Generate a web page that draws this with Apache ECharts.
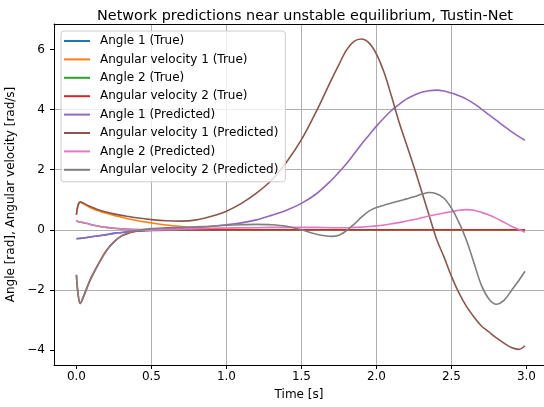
<!DOCTYPE html>
<html>
<head>
<meta charset="utf-8">
<script src="https://cdn.jsdelivr.net/npm/echarts@6/dist/echarts.min.js"></script>
<style>
html,body{margin:0;padding:0;background:#fff;overflow:hidden;}
#chart{width:544px;height:407px;}
</style>
</head>
<body>
<div id="chart"></div>
<script>
// ---- data ----
const time = [0, 0.01, 0.025, 0.05, 0.08, 0.1, 0.15, 0.2, 0.25, 0.3, 0.35, 0.4, 0.5, 0.6, 0.7, 0.8, 0.9, 1.0, 1.1, 1.2, 1.3, 1.4, 1.5, 1.6, 1.7, 1.75, 1.8, 1.85, 1.9, 1.95, 2.0, 2.05, 2.1, 2.15, 2.2, 2.25, 2.3, 2.35, 2.4, 2.45, 2.5, 2.55, 2.6, 2.65, 2.7, 2.75, 2.8, 2.85, 2.9, 2.95, 2.99];

const angle1True = [-0.3, -0.29, -0.285, -0.27, -0.25, -0.23, -0.2, -0.16, -0.12, -0.09, -0.06, -0.04, -0.02, -0.01, -0.005, 0, 0, 0, 0, 0, 0, 0, 0, 0, 0, 0, 0, 0, 0, 0, 0, 0, 0, 0, 0, 0, 0, 0, 0, 0, 0, 0, 0, 0, 0, 0, 0, 0, 0, 0, 0];
const angVel1True = [0.5, 0.8, 0.92, 0.86, 0.77, 0.72, 0.63, 0.55, 0.48, 0.42, 0.36, 0.31, 0.23, 0.16, 0.11, 0.07, 0.04, 0.02, 0.01, 0, 0, 0, 0, 0, 0, 0, 0, 0, 0, 0, 0, 0, 0, 0, 0, 0, 0, 0, 0, 0, 0, 0, 0, 0, 0, 0, 0, 0, 0, 0, 0];
const angle2True = [0.3, 0.28, 0.26, 0.23, 0.2, 0.17, 0.12, 0.08, 0.05, 0.03, 0.015, 0.005, 0, 0, 0, 0, 0, 0, 0, 0, 0, 0, 0, 0, 0, 0, 0, 0, 0, 0, 0, 0, 0, 0, 0, 0, 0, 0, 0, 0, 0, 0, 0, 0, 0, 0, 0, 0, 0, 0, 0];
const angVel2True = [-1.5, -2.1, -2.45, -2.18, -1.8, -1.57, -1.1, -0.69, -0.4, -0.21, -0.11, -0.05, -0.01, 0, 0, 0, 0, 0, 0, 0, 0, 0, 0, 0, 0, 0, 0, 0, 0, 0, 0, 0, 0, 0, 0, 0, 0, 0, 0, 0, 0, 0, 0, 0, 0, 0, 0, 0, 0, 0, 0];

const angle1Pred = [-0.3, -0.29, -0.285, -0.27, -0.25, -0.23, -0.2, -0.16, -0.12, -0.09, -0.06, -0.04, 0.0, 0.03, 0.05, 0.08, 0.12, 0.17, 0.23, 0.33, 0.48, 0.65, 0.88, 1.2, 1.65, 1.92, 2.2, 2.52, 2.85, 3.15, 3.45, 3.72, 3.97, 4.17, 4.35, 4.48, 4.58, 4.63, 4.65, 4.62, 4.55, 4.46, 4.35, 4.2, 4.02, 3.83, 3.64, 3.45, 3.27, 3.1, 2.98];
const angVel1Pred = [0.5, 0.8, 0.92, 0.88, 0.8, 0.76, 0.66, 0.59, 0.53, 0.48, 0.44, 0.4, 0.34, 0.3, 0.29, 0.33, 0.45, 0.62, 0.88, 1.22, 1.65, 2.25, 3.0, 3.95, 5.0, 5.5, 5.98, 6.27, 6.35, 6.22, 5.85, 5.25, 4.45, 3.6, 2.85, 2.1, 1.3, 0.5, -0.3, -0.9, -1.55, -2.1, -2.55, -2.9, -3.2, -3.4, -3.6, -3.77, -3.92, -3.98, -3.86];
const angle2Pred = [0.3, 0.28, 0.26, 0.23, 0.2, 0.17, 0.12, 0.08, 0.05, 0.03, 0.015, 0.005, -0.01, 0.0, 0.02, 0.04, 0.05, 0.06, 0.07, 0.07, 0.08, 0.08, 0.08, 0.08, 0.07, 0.07, 0.07, 0.08, 0.09, 0.11, 0.13, 0.16, 0.2, 0.24, 0.29, 0.34, 0.4, 0.46, 0.51, 0.56, 0.6, 0.65, 0.67, 0.65, 0.58, 0.49, 0.38, 0.25, 0.12, 0.01, -0.08];
const angVel2Pred = [-1.5, -2.1, -2.45, -2.2, -1.82, -1.6, -1.12, -0.7, -0.4, -0.2, -0.09, -0.03, 0.04, 0.07, 0.08, 0.1, 0.12, 0.15, 0.17, 0.18, 0.17, 0.12, 0.0, -0.15, -0.22, -0.18, -0.03, 0.18, 0.42, 0.62, 0.74, 0.82, 0.89, 0.96, 1.03, 1.1, 1.18, 1.24, 1.2, 1.05, 0.72, 0.25, -0.35, -1.1, -1.85, -2.3, -2.48, -2.35, -2.02, -1.68, -1.38];

const seriesNames = ['Angle 1 (True)', 'Angular velocity 1 (True)', 'Angle 2 (True)', 'Angular velocity 2 (True)',
  'Angle 1 (Predicted)', 'Angular velocity 1 (Predicted)', 'Angle 2 (Predicted)', 'Angular velocity 2 (Predicted)'];
const seriesValues = [angle1True, angVel1True, angle2True, angVel2True, angle1Pred, angVel1Pred, angle2Pred, angVel2Pred];

const xTicks = [0, 0.5, 1, 1.5, 2, 2.5, 3];
const yTicks = [-4, -2, 0, 2, 4, 6];

// ---- styles ----
const colors = ['#1f77b4', '#ff7f0e', '#2ca02c', '#d62728', '#9467bd', '#8c564b', '#e377c2', '#7f7f7f'];
const FONT = 'DejaVu Sans';
const X_MIN = -0.1495, X_MAX = 3.117;

const chart = echarts.init(document.getElementById('chart'), null, {renderer: 'canvas'});

const series = seriesNames.map((name, i) => ({
  name: name,
  type: 'line',
  xAxisIndex: 0,
  data: time.map((t, k) => [t, seriesValues[i][k]]),
  showSymbol: false,
  symbol: 'none',
  smooth: 0.35,
  lineStyle: {color: colors[i], width: 1.6},
  itemStyle: {color: colors[i]},
  emphasis: {disabled: true},
  animation: false
}));

const option = {
  animation: false,
  title: {
    text: 'Network predictions near unstable equilibrium, Tustin-Net',
    left: 300, top: 4, textAlign: 'center',
    textStyle: {fontFamily: FONT, fontSize: 14.4, fontWeight: 'normal', color: '#000'}
  },
  grid: {left: 54, top: 24, right: 0, height: 341, outerBoundsMode: 'none', containLabel: false, show: false},
  legend: {
    orient: 'vertical', left: 61, top: 31,
    data: seriesNames,
    icon: 'rect',
    itemWidth: 26, itemHeight: 2, itemGap: 4.4,
    padding: [3, 7, 5, 3],
    backgroundColor: 'rgba(255,255,255,0.8)', borderColor: '#cccccc', borderWidth: 1, borderRadius: 3,
    textStyle: {fontFamily: FONT, fontSize: 12, color: '#000', padding: [0, 0, 0, 5], lineHeight: 14},
    selectedMode: false
  },
  xAxis: [{
    type: 'value', min: X_MIN, max: X_MAX, splitNumber: 6, position: 'bottom',
    axisLine: {show: true, onZero: false, lineStyle: {color: '#000', width: 1}},
    axisTick: {show: true, length: 4, customValues: xTicks, lineStyle: {color: '#000'}},
    axisLabel: {customValues: xTicks, formatter: v => v.toFixed(1), fontFamily: FONT, fontSize: 12, color: '#000', margin: 6},
    splitLine: {show: true, showMinLine: false, showMaxLine: false, lineStyle: {color: '#b0b0b0', width: 1}},
    name: 'Time [s]', nameLocation: 'middle', nameGap: 24,
    nameTextStyle: {fontFamily: FONT, fontSize: 12, color: '#000'}
  }, {
    type: 'value', min: X_MIN, max: X_MAX, position: 'top',
    axisLine: {show: true, onZero: false, lineStyle: {color: '#000', width: 1}},
    axisTick: {show: false}, axisLabel: {show: false}, splitLine: {show: false}
  }],
  yAxis: {
    type: 'value', min: -4.5, max: 6.85, splitNumber: 5,
    axisLine: {show: true, onZero: false, lineStyle: {color: '#000', width: 1}},
    axisTick: {show: true, length: 4, customValues: yTicks, lineStyle: {color: '#000'}},
    axisLabel: {customValues: yTicks, formatter: v => String(v).replace('-', '\u2212'), fontFamily: FONT, fontSize: 12, color: '#000', margin: 9},
    splitLine: {show: true, showMinLine: false, showMaxLine: false, lineStyle: {color: '#b0b0b0', width: 1}},
    name: 'Angle [rad], Angular velocity [rad/s]', nameLocation: 'middle', nameGap: 32, nameRotate: 90,
    nameTextStyle: {fontFamily: FONT, fontSize: 12, color: '#000'}
  },
  series: series
};
chart.setOption(option);
</script>
</body>
</html>
